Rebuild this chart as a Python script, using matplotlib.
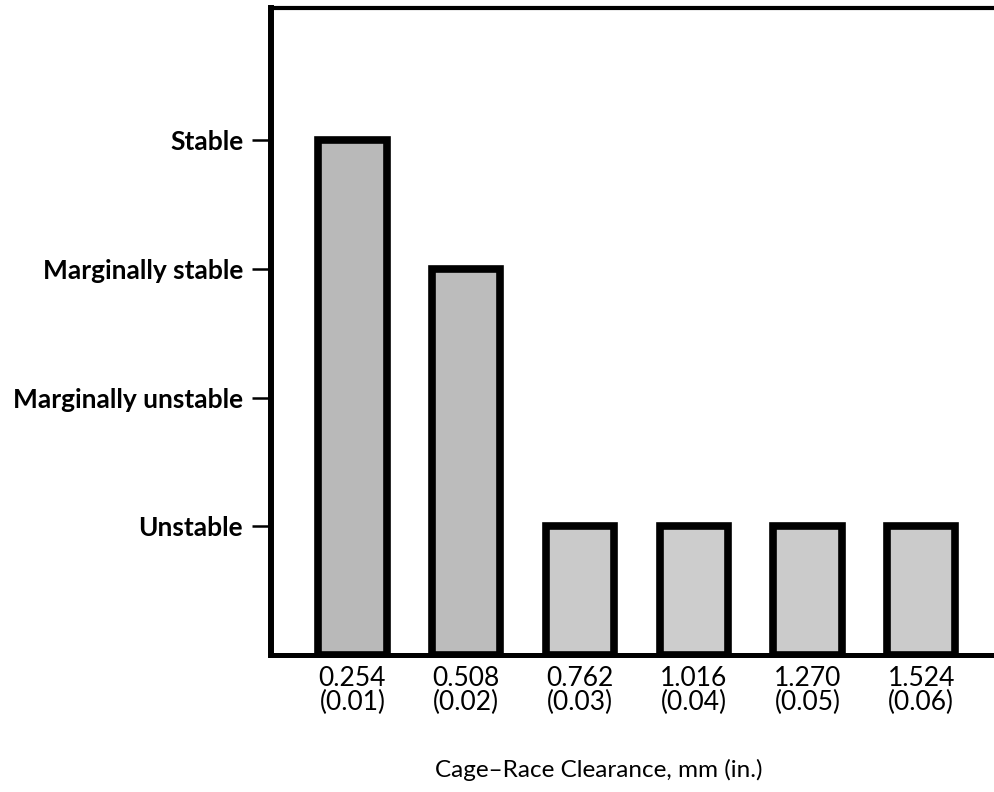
import matplotlib
matplotlib.use("Agg")
import matplotlib.pyplot as plt

plt.rcParams['font.family'] = ['Lato', 'DejaVu Sans']

# data
clearance_mm = ["0.254", "0.508", "0.762", "1.016", "1.270", "1.524"]
clearance_in = ["(0.01)", "(0.02)", "(0.03)", "(0.04)", "(0.05)", "(0.06)"]
stability = [4, 3, 1, 1, 1, 1]
stability_levels = [1, 2, 3, 4]
stability_names = ["Unstable", "Marginally unstable", "Marginally stable", "Stable"]

fig = plt.figure(figsize=(9.94, 7.92), dpi=100)
ax = fig.add_axes([0.2726, 0.173, 0.7274, 0.817])

pos = list(range(1, len(clearance_mm) + 1))
colors = ['#b9b9b9', '#bcbcbc', '#cacaca', '#cdcdcd', '#cbcbcb', '#cbcbcb']
ax.bar(pos, stability, width=0.6, color=colors, edgecolor='black',
       linewidth=5.5, zorder=2)

ax.set_xlim(0.284, 6.64)
ax.set_ylim(0, 5.03)

ax.set_xticks(pos)
ax.set_xticklabels([a + "\n" + b for a, b in zip(clearance_mm, clearance_in)],
                   fontsize=19, linespacing=0.95)
ax.set_yticks(stability_levels)
ax.set_yticklabels(stability_names, fontsize=19, fontweight='bold')

ax.tick_params(axis='x', length=0, pad=8)
ax.tick_params(axis='y', length=14, width=1.8, pad=6, direction='out')

ax.spines['right'].set_visible(False)
ax.spines['left'].set_linewidth(4.3)
ax.spines['bottom'].set_linewidth(3.6)
ax.spines['top'].set_linewidth(3)

ax.set_xlabel("Cage\u2013Race Clearance, mm (in.)", fontsize=17.5)
ax.xaxis.label.set_verticalalignment('center')
ax.xaxis.set_label_coords((599 - 271) / (994 - 271), -(770 - 655) / (655 - 8))

fig.savefig("out.png", dpi=100)
